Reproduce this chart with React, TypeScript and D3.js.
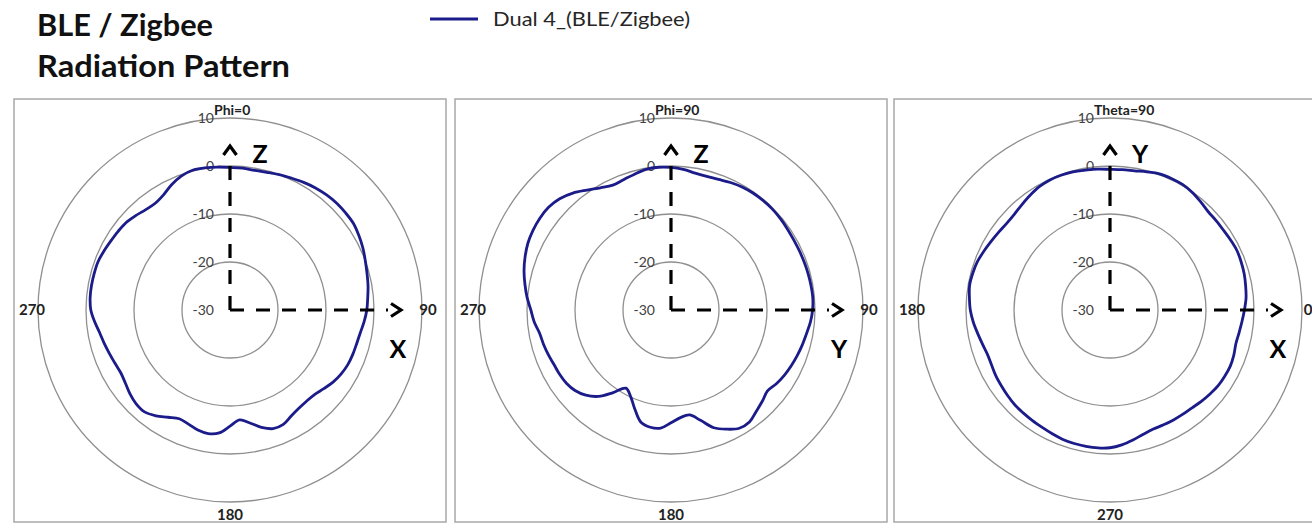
import React, { useEffect, useRef } from "react";
import * as d3 from "d3";

// Measurement angles (degrees)
const ANGLES = [
  0, 5, 10, 15, 20, 25, 30, 35, 40, 45, 50, 55, 60, 65, 70, 75, 80, 85,
  90, 95, 100, 105, 110, 115, 120, 125, 130, 135, 140, 145, 150, 155, 160, 165, 170, 175,
  180, 185, 190, 195, 200, 205, 210, 215, 220, 225, 230, 235, 240, 245, 250, 255, 260, 265,
  270, 275, 280, 285, 290, 295, 300, 305, 310, 315, 320, 325, 330, 335, 340, 345, 350, 355,
];

// Gain (dB) per angle
const PHI0_GAIN = [
  -0.3, -0.35, -0.45, -0.3, 0.0, 0.3, 0.7, 1.05, 1.3, 1.45, 1.45, 1.4, 1.0, 0.55, 0.0, -0.45, -0.8, -1.2,
  -1.5, -1.95, -2.45, -2.7, -2.8, -2.95, -3.3, -3.8, -4.5, -5.1, -5.2, -5.0, -4.5, -3.7, -3.7, -4.7, -6.1, -7.0,
  -5.8, -4.3, -3.85, -4.1, -4.7, -5.0, -4.2, -3.1, -2.3, -2.35, -2.8, -3.4, -3.75, -3.6, -3.3, -2.9, -2.45, -1.7,
  -1.0, -0.75, -0.7, -0.7, -0.72, -1.0, -1.3, -1.5, -1.7, -2.2, -2.7, -2.85, -2.3, -1.2, -0.3, 0.15, 0.05, -0.1,
];

const PHI90_GAIN = [
  -0.3, -0.6, -1.05, -1.2, -1.05, -0.7, -0.4, -0.25, -0.2, -0.2, -0.3, -0.45, -0.55, -0.55, -0.52, -0.45, -0.4, -0.35,
  -0.5, -0.85, -1.35, -1.7, -2.05, -2.4, -2.75, -3.2, -3.75, -3.1, -2.4, -1.5, -1.55, -2.6, -3.9, -6.2, -7.8, -7.5,
  -6.5, -5.3, -5.2, -5.8, -8.0, -10.1, -11.2, -9.0, -6.5, -4.9, -3.9, -3.4, -3.2, -3.1, -2.8, -2.5, -2.2, -1.4,
  -0.8, 0.1, 0.9, 1.7, 2.35, 2.9, 3.2, 3.35, 3.3, 2.8, 1.8, 0.5, -0.6, -1.3, -1.1, -0.7, -0.25, -0.15,
];

const THETA90_GAIN = [
  -2.0, -1.55, -1.3, -1.05, -0.9, -0.8, -0.95, -1.1, -1.1, -1.05, -0.6, -0.1, 0.2, 0.25, 0.2, -0.2, -0.55, -0.65,
  -0.69, -0.55, -0.42, -0.2, -0.12, -0.15, -0.4, -0.9, -1.4, -1.8, -1.9, -1.7, -1.4, -1.0, -0.6, -0.4, -0.3, -0.6,
  -0.9, -1.4, -2.0, -2.5, -2.85, -2.8, -2.55, -2.4, -2.2, -2.0, -1.95, -1.85, -1.75, -1.55, -1.3, -1.2, -1.15, -1.15,
  -1.3, -1.8, -2.5, -3.2, -3.6, -3.6, -3.55, -3.5, -3.4, -3.1, -2.8, -2.5, -2.4, -2.35, -2.55, -2.85, -2.7, -2.4,
];

// Radial axis
const RADIAL_DOMAIN = [-30, 10];
const RING_VALUES = [-20, -10, 0, 10];
const RADIAL_TICKS = [10, 0, -10, -20, -30];

const SERIES_NAME = "Dual 4_(BLE/Zigbee)";
const HEADING = ["BLE / Zigbee", "Radiation Pattern"];

interface Panel {
  title: string;
  gain: number[];
  // "top-cw": 0 at top, clockwise. "right-ccw": 0 at right, counter-clockwise
  orientation: "top-cw" | "right-ccw";
  angleLabels: { left: string; right: string; bottom: string };
  upAxis: string;
  rightAxis: string;
}

const PANELS: Panel[] = [
  {
    title: "Phi=0",
    gain: PHI0_GAIN,
    orientation: "top-cw",
    angleLabels: { left: "270", right: "90", bottom: "180" },
    upAxis: "Z",
    rightAxis: "X",
  },
  {
    title: "Phi=90",
    gain: PHI90_GAIN,
    orientation: "top-cw",
    angleLabels: { left: "270", right: "90", bottom: "180" },
    upAxis: "Z",
    rightAxis: "Y",
  },
  {
    title: "Theta=90",
    gain: THETA90_GAIN,
    orientation: "right-ccw",
    angleLabels: { left: "180", right: "0", bottom: "270" },
    upAxis: "Y",
    rightAxis: "X",
  },
];

const WIDTH = 1312;
const HEIGHT = 523;
const FONT = "Lato, 'Open Sans', sans-serif";
const LINE_COLOR = "#1b1b8a";

const App: React.FC = () => {
  const svgRef = useRef<SVGSVGElement>(null);

  useEffect(() => {
    document.body.style.margin = "0";
    if (!svgRef.current) return;

    const svg = d3.select(svgRef.current);
    svg.selectAll("*").remove();

    // Heading (two lines, widths matched to the slide)
    const headingWidths = [176, 253];
    HEADING.forEach((t, i) => {
      svg
        .append("text")
        .attr("x", 37)
        .attr("y", 36 + i * 41)
        .attr("textLength", headingWidths[i])
        .attr("lengthAdjust", "spacingAndGlyphs")
        .style("font-family", FONT)
        .style("font-weight", "bold")
        .style("font-size", "31px")
        .attr("fill", "#111")
        .text(t);
    });

    // Legend
    svg
      .append("line")
      .attr("x1", 430)
      .attr("x2", 478)
      .attr("y1", 19)
      .attr("y2", 19)
      .attr("stroke", LINE_COLOR)
      .attr("stroke-width", 3);
    svg
      .append("text")
      .attr("x", 493)
      .attr("y", 26)
      .attr("textLength", 197)
      .attr("lengthAdjust", "spacingAndGlyphs")
      .style("font-family", FONT)
      .style("font-size", "20px")
      .attr("fill", "#262626")
      .text(SERIES_NAME);

    const outerR = 192;
    const r = d3.scaleLinear().domain(RADIAL_DOMAIN).range([0, outerR]);
    const centersX = [230, 671, 1110];
    const cy = 310;

    PANELS.forEach((panel, pi) => {
      const cx = centersX[pi];
      const g = svg.append("g").attr("transform", `translate(${cx},${cy})`);

      // Frame
      g.append("rect")
        .attr("x", -216)
        .attr("y", 99 - cy)
        .attr("width", 432)
        .attr("height", 423)
        .attr("fill", "none")
        .attr("stroke", "#a8a8a8")
        .attr("stroke-width", 1.5);

      // Rings
      g.selectAll(".ring")
        .data(RING_VALUES)
        .enter()
        .append("circle")
        .attr("r", (d) => r(d))
        .attr("fill", "none")
        .attr("stroke", "#8f8f8f")
        .attr("stroke-width", 1.3);

      // Radial tick labels
      g.selectAll(".rtick")
        .data(RADIAL_TICKS)
        .enter()
        .append("text")
        .attr("x", -16)
        .attr("y", (d) => -r(d))
        .attr("dy", "0.35em")
        .attr("text-anchor", "end")
        .style("font-family", FONT)
        .style("font-size", "14px")
        .attr("fill", "#404040")
        .text((d) => d);

      // Angle labels
      const angleStyle = (sel: d3.Selection<SVGTextElement, unknown, null, undefined>) =>
        sel
          .attr("text-anchor", "middle")
          .attr("dy", "0.35em")
          .style("font-family", FONT)
          .style("font-weight", "bold")
          .style("font-size", "15px")
          .attr("fill", "#222");
      g.append("text").attr("x", -outerR - 6).attr("y", 0).call(angleStyle).text(panel.angleLabels.left);
      g.append("text").attr("x", outerR + 6).attr("y", 0).call(angleStyle).text(panel.angleLabels.right);
      g.append("text").attr("x", 0).attr("y", outerR + 13).call(angleStyle).text(panel.angleLabels.bottom);

      // Panel title
      g.append("text")
        .attr("x", -16)
        .attr("y", 115 - cy)
        .style("font-family", FONT)
        .style("font-weight", "bold")
        .style("font-size", "14px")
        .attr("fill", "#222")
        .text(panel.title);

      // Pattern
      const toAngle = (deg: number) =>
        ((panel.orientation === "top-cw" ? deg : 90 - deg) * Math.PI) / 180;
      const line = d3
        .lineRadial<number>()
        .angle((_, i) => toAngle(ANGLES[i]))
        .radius((d) => r(d))
        .curve(d3.curveCatmullRomClosed.alpha(0.5));
      g.append("path")
        .datum(panel.gain)
        .attr("fill", "none")
        .attr("stroke", LINE_COLOR)
        .attr("stroke-width", 2.8)
        .attr("stroke-linejoin", "round")
        .attr("d", line);

      // Coordinate axes overlay
      const axisG = g.append("g").attr("stroke", "#000").attr("stroke-width", 3.2).attr("fill", "none");
      axisG.append("path").attr("d", "M0,0 V-153").attr("stroke-dasharray", "14,12");
      axisG.append("path").attr("d", "M0,0 H158").attr("stroke-dasharray", "14,12");
      axisG.append("path").attr("d", "M-6.5,-155 L0,-164 L6.5,-155").attr("stroke-linejoin", "miter");
      axisG.append("path").attr("d", "M161,-6.5 L171,0 L161,6.5").attr("stroke-linejoin", "miter");

      g.append("text")
        .attr("x", 30)
        .attr("y", -147)
        .attr("text-anchor", "middle")
        .style("font-family", FONT)
        .style("font-weight", "bold")
        .style("font-size", "25px")
        .attr("fill", "#000")
        .text(panel.upAxis);
      g.append("text")
        .attr("x", 168)
        .attr("y", 48)
        .attr("text-anchor", "middle")
        .style("font-family", FONT)
        .style("font-weight", "bold")
        .style("font-size", "25px")
        .attr("fill", "#000")
        .text(panel.rightAxis);
    });
  }, []);

  return (
    <svg
      ref={svgRef}
      width={WIDTH}
      height={HEIGHT}
      style={{ display: "block", background: "#fff" }}
    />
  );
};

export default App;
